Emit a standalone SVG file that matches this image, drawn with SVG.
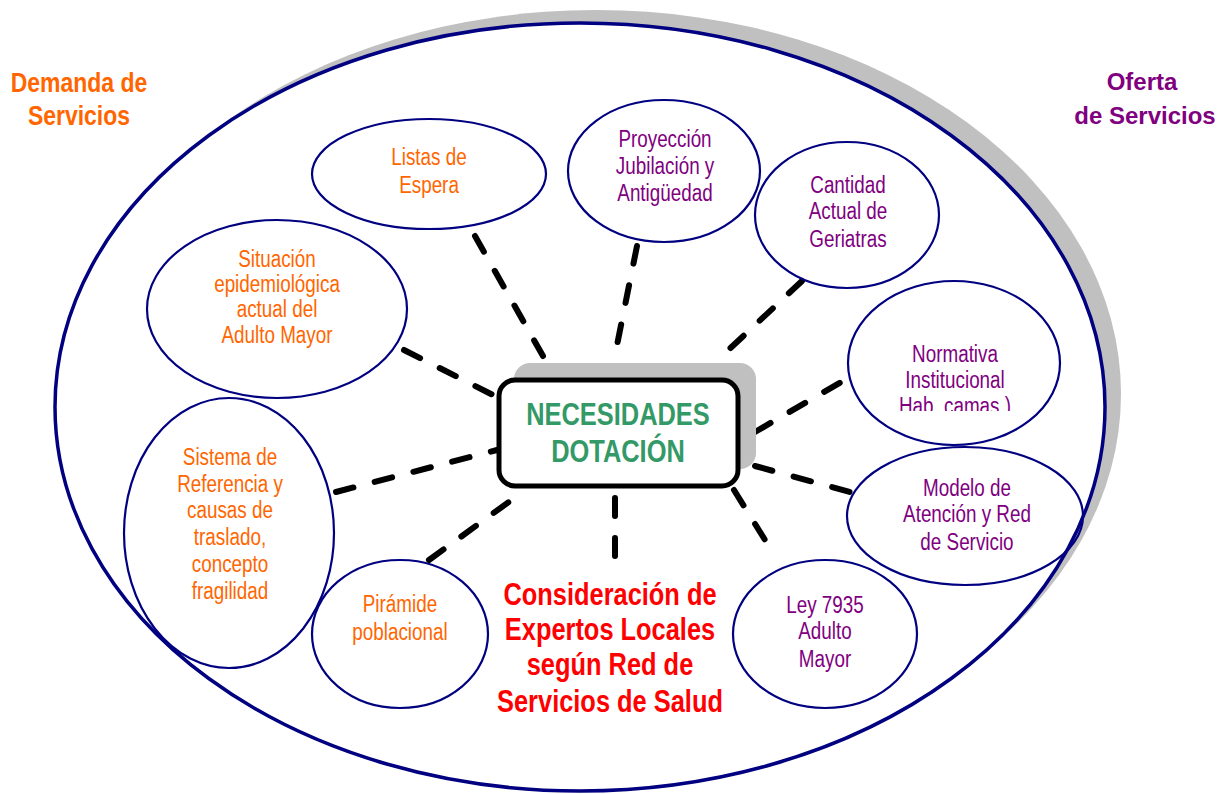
<svg xmlns="http://www.w3.org/2000/svg" width="1229" height="794" viewBox="0 0 1229 794">
<style>
.nd{fill:none;stroke:#000080;stroke-width:2.2}
.t{font-family:'Liberation Sans',Arial,sans-serif;font-size:23px;text-anchor:middle;transform-box:fill-box;transform-origin:center;transform:scale(0.82,1)}
.o{fill:#FF6600}
.p{fill:#800080}
.cn line{stroke:#000;stroke-width:6;stroke-linecap:round;stroke-dasharray:18 22}
</style>
<defs>
<clipPath id="clipHab"><rect x="840" y="280" width="230" height="131"/></clipPath>
</defs>
<g id="outer">
<ellipse cx="596" cy="394" rx="525" ry="384" fill="#C0C0C0"/>
<ellipse cx="580" cy="407" rx="525" ry="384" fill="#FFFFFF" stroke="#000080" stroke-width="3.5"/>
</g>
<g id="title-demanda">
<text x="79" y="92" class="t" style="font-size:28px;font-weight:bold;fill:#FF6600">Demanda de</text>
<text x="79" y="125" class="t" style="font-size:28px;font-weight:bold;fill:#FF6600">Servicios</text>
</g>
<g id="title-oferta">
<text x="1142" y="90" style="font-family:'Liberation Sans',Arial,sans-serif;font-size:24px;font-weight:bold;fill:#800080;text-anchor:middle">Oferta</text>
<text x="1145" y="124" style="font-family:'Liberation Sans',Arial,sans-serif;font-size:24px;font-weight:bold;fill:#800080;text-anchor:middle">de Servicios</text>
</g>
<g id="connectors" class="cn">
<line x1="475" y1="236" x2="543" y2="356"/>
<line x1="637" y1="246" x2="615" y2="355"/>
<line x1="802" y1="281" x2="722" y2="356"/>
<line x1="404" y1="350" x2="497" y2="397"/>
<line x1="336" y1="492" x2="497" y2="450"/>
<line x1="429" y1="560" x2="517" y2="496"/>
<line x1="615" y1="498" x2="615" y2="565"/>
<line x1="734" y1="490" x2="770" y2="548"/>
<line x1="755" y1="432" x2="848" y2="378"/>
<line x1="755" y1="466" x2="850" y2="492"/>
</g>
<g id="center">
<rect x="514" y="363" width="242" height="106" rx="16" fill="#C0C0C0"/>
<rect x="499" y="380" width="239" height="106" rx="16" fill="#FFFFFF" stroke="#000" stroke-width="5"/>
<text x="618" y="425" class="t" style="font-size:31px;font-weight:bold;fill:#339966">NECESIDADES</text>
<text x="618" y="462" class="t" style="font-size:31px;font-weight:bold;fill:#339966">DOTACIÓN</text>
</g>
<g id="n-listas">
<ellipse class="nd" cx="429" cy="174" rx="117" ry="55"/>
<text class="t o" x="429" y="165">Listas de</text>
<text class="t o" x="429" y="193">Espera</text>
</g>
<g id="n-situacion">
<ellipse class="nd" cx="277" cy="309" rx="130" ry="89"/>
<text class="t o" x="277" y="267">Situación</text>
<text class="t o" x="277" y="292">epidemiológica</text>
<text class="t o" x="277" y="317">actual del</text>
<text class="t o" x="277" y="343">Adulto Mayor</text>
</g>
<g id="n-sistema">
<ellipse class="nd" cx="229" cy="533" rx="105" ry="135"/>
<text class="t o" x="230" y="465">Sistema de</text>
<text class="t o" x="230" y="492">Referencia y</text>
<text class="t o" x="230" y="518">causas de</text>
<text class="t o" x="230" y="545">traslado,</text>
<text class="t o" x="230" y="572">concepto</text>
<text class="t o" x="230" y="599">fragilidad</text>
</g>
<g id="n-piramide">
<ellipse class="nd" cx="400" cy="634" rx="88" ry="74"/>
<text class="t o" x="400" y="612">Pirámide</text>
<text class="t o" x="400" y="640">poblacional</text>
</g>
<g id="n-proyeccion">
<ellipse class="nd" cx="664" cy="171" rx="96" ry="71"/>
<text class="t p" x="665" y="147">Proyección</text>
<text class="t p" x="665" y="174">Jubilación y</text>
<text class="t p" x="665" y="201">Antigüedad</text>
</g>
<g id="n-cantidad">
<ellipse class="nd" cx="847" cy="215" rx="92" ry="73"/>
<text class="t p" x="848" y="193">Cantidad</text>
<text class="t p" x="848" y="219">Actual de</text>
<text class="t p" x="848" y="247">Geriatras</text>
</g>
<g id="n-normativa">
<ellipse class="nd" cx="954" cy="363" rx="106" ry="82"/>
<text class="t p" x="955" y="362">Normativa</text>
<text class="t p" x="955" y="388">Institucional</text>
<g clip-path="url(#clipHab)"><text class="t p" x="955" y="414">Hab. camas.)</text></g>
</g>
<g id="n-modelo">
<ellipse class="nd" cx="965" cy="516" rx="118" ry="69"/>
<text class="t p" x="967" y="496">Modelo de</text>
<text class="t p" x="967" y="522">Atención y Red</text>
<text class="t p" x="967" y="550">de Servicio</text>
</g>
<g id="n-ley">
<ellipse class="nd" cx="825" cy="634" rx="92" ry="74"/>
<text class="t p" x="825" y="613">Ley 7935</text>
<text class="t p" x="825" y="639">Adulto</text>
<text class="t p" x="825" y="667">Mayor</text>
</g>
<g id="expertos">
<text class="t" x="610" y="605" style="font-size:31px;font-weight:bold;fill:#FF0000">Consideración de</text>
<text class="t" x="610" y="640" style="font-size:31px;font-weight:bold;fill:#FF0000">Expertos Locales</text>
<text class="t" x="610" y="675" style="font-size:31px;font-weight:bold;fill:#FF0000">según Red de</text>
<text class="t" x="610" y="712" style="font-size:31px;font-weight:bold;fill:#FF0000">Servicios de Salud</text>
</g>
</svg>
